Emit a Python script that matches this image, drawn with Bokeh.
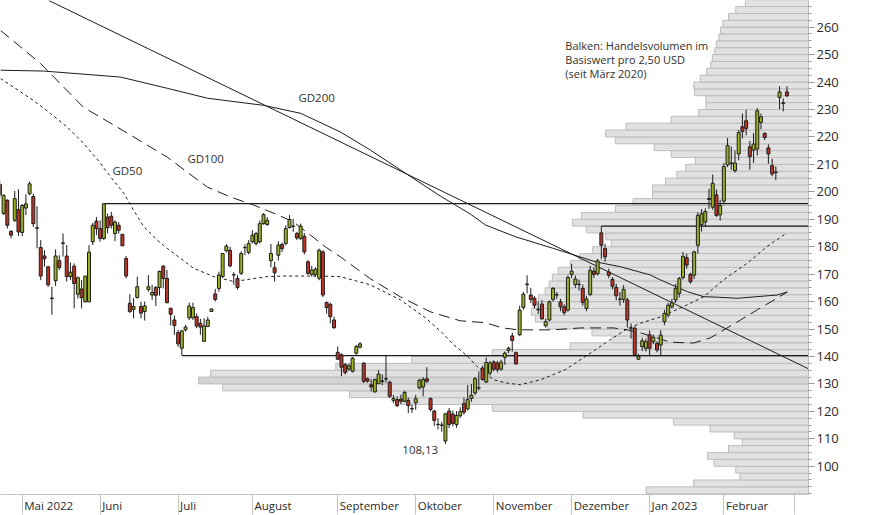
import numpy as np
import pandas as pd
from bokeh.plotting import figure
from bokeh.models import Range1d, FixedTicker, Label, ColumnDataSource
from bokeh.embed import file_html
from bokeh.resources import INLINE

# ---------------- data ----------------
HOLIDAYS = ["2022-05-30", "2022-06-20", "2022-07-04", "2022-09-05", "2022-11-24",
            "2022-12-26", "2023-01-02", "2023-01-16", "2023-02-20"]
DATES = pd.bdate_range("2022-04-22", "2023-02-27", freq="C", holidays=HOLIDAYS)
TICK_DATES = pd.bdate_range("2022-04-22", "2023-03-01", freq="C", holidays=HOLIDAYS)

OPEN = [202.7, 192.1, 196.9, 185.6, 189.6, 193.5, 185.2, 194.1, 199.3, 198.3,
        186.9, 179.7, 176.6, 172.7, 161.3, 167.6, 174.9, 181.2, 176.6, 169.1,
        172.9, 162.7, 164.6, 159.9, 159.9, 181.8, 189.3, 186.6, 183.0, 190.8,
        191.1, 184.8, 187.8, 184.5, 175.7, 159.4, 157.2, 161.5, 158.2, 156.4,
        164.4, 162.4, 165.1, 165.1, 172.9, 168.4, 157.6, 153.3, 148.7, 143.0,
        149.7, 154.1, 154.1, 154.5, 152.1, 145.5, 150.9, 156.4, 162.8, 164.8,
        169.1, 178.5, 178.7, 169.7, 168.4, 170.3, 179.6, 177.9, 181.8, 181.2,
        181.8, 188.4, 188.1, 174.9, 172.3, 176.9, 180.8, 181.2, 187.0, 187.5,
        184.8, 183.0, 183.8, 174.5, 169.9, 169.9, 168.5, 178.1, 159.7, 159.0,
        153.3, 141.5, 140.6, 137.0, 135.4, 134.6, 141.2, 143.4, 137.6, 131.9,
        129.7, 127.1, 130.1, 130.9, 131.9, 130.6, 124.0, 124.3, 124.5, 123.7,
        124.0, 120.9, 123.1, 128.5, 128.9, 131.9, 124.6, 120.1, 115.2, 115.0,
        109.2, 120.1, 119.0, 115.2, 118.4, 122.8, 120.9, 124.7, 126.7, 128.5,
        135.8, 130.7, 133.9, 138.0, 137.6, 135.4, 139.7, 142.2, 147.5, 141.4,
        147.9, 157.9, 166.4, 162.4, 161.2, 157.0, 159.1, 151.2, 153.3, 160.8,
        162.4, 159.9, 158.1, 156.9, 169.9, 166.2, 166.2, 164.8, 157.5, 162.6,
        171.1, 170.2, 185.0, 179.3, 170.8, 168.1, 165.2, 160.8, 160.8, 160.6,
        150.3, 150.3, 139.0, 143.6, 143.0, 147.9, 145.4, 144.8, 144.2, 152.7,
        155.1, 158.1, 160.6, 163.0, 168.8, 176.0, 169.9, 169.6, 180.5, 188.0,
        189.0, 197.2, 194.4, 198.9, 191.6, 196.6, 209.8, 210.3, 207.7, 213.8,
        223.7, 225.9, 216.4, 215.2, 215.6, 225.3, 221.3, 216.0, 209.5, 207.0,
        234.4, 232.2, 236.4]
HIGH = [204.0, 199.1, 197.3, 186.0, 200.3, 200.9, 195.6, 199.1, 203.8, 199.3,
        194.7, 182.4, 178.7, 172.7, 165.4, 179.0, 176.9, 184.8, 180.6, 174.2,
        173.9, 169.1, 167.8, 169.3, 180.6, 188.7, 190.8, 189.6, 195.6, 192.1,
        192.7, 189.6, 189.0, 184.5, 176.6, 162.7, 161.3, 169.1, 160.0, 160.0,
        169.6, 166.1, 165.7, 171.3, 173.3, 171.5, 157.6, 154.9, 149.7, 149.7,
        151.5, 159.6, 159.6, 155.7, 153.7, 153.9, 154.5, 157.5, 164.6, 170.9,
        177.5, 181.0, 180.0, 170.7, 169.6, 178.3, 180.8, 182.4, 186.0, 185.4,
        189.6, 192.2, 190.8, 181.0, 174.5, 182.0, 181.5, 187.8, 191.5, 190.2,
        185.4, 188.4, 185.0, 175.1, 173.0, 172.5, 179.3, 178.7, 160.0, 159.6,
        154.5, 143.6, 141.2, 137.6, 137.4, 139.8, 144.2, 145.2, 137.8, 132.3,
        131.6, 131.9, 135.0, 133.5, 140.3, 131.2, 126.0, 125.5, 126.1, 127.5,
        125.0, 122.5, 126.0, 131.9, 132.5, 136.1, 125.2, 120.6, 117.5, 116.2,
        119.5, 121.2, 120.3, 120.1, 121.5, 125.0, 129.6, 130.0, 132.5, 134.5,
        136.6, 139.6, 138.4, 138.6, 138.4, 138.8, 141.8, 143.6, 148.7, 141.8,
        158.5, 163.5, 169.6, 165.0, 162.0, 160.0, 160.5, 153.8, 160.4, 165.3,
        163.5, 161.0, 159.0, 169.5, 173.8, 169.5, 168.0, 166.2, 162.0, 173.0,
        172.5, 175.5, 187.5, 181.0, 172.0, 169.0, 166.5, 163.5, 166.0, 161.5,
        152.0, 151.0, 141.0, 146.8, 146.5, 149.5, 148.0, 145.5, 149.6, 157.0,
        159.5, 161.0, 166.5, 169.0, 178.0, 177.5, 170.5, 178.5, 192.6, 193.7,
        194.0, 201.1, 206.3, 200.9, 197.0, 210.5, 219.6, 216.5, 215.0, 222.5,
        228.5, 229.8, 218.5, 221.4, 230.5, 228.5, 221.6, 217.3, 212.0, 209.2,
        238.4, 234.0, 238.4]
LOW = [197.5, 191.5, 186.6, 183.0, 189.0, 183.9, 183.8, 191.5, 198.7, 187.2,
       179.4, 167.8, 172.7, 165.4, 155.2, 165.7, 171.5, 176.4, 167.3, 167.8,
       157.5, 161.1, 157.5, 159.7, 159.9, 180.6, 184.2, 181.8, 182.4, 184.8,
       186.6, 182.0, 184.8, 180.3, 168.5, 155.8, 153.9, 161.1, 153.9, 153.1,
       163.6, 160.6, 158.4, 162.2, 164.8, 159.4, 151.3, 147.9, 143.5, 140.5,
       149.1, 153.3, 153.3, 150.3, 147.9, 145.5, 150.9, 156.2, 160.0, 163.6,
       168.5, 177.9, 172.5, 166.1, 164.4, 169.7, 176.9, 177.2, 181.2, 180.4,
       181.2, 188.0, 187.6, 172.5, 167.3, 175.0, 178.0, 180.5, 186.6, 185.4,
       182.4, 182.4, 177.2, 169.7, 169.1, 169.1, 167.8, 161.6, 155.6, 152.1,
       150.0, 138.8, 132.8, 133.4, 134.8, 134.2, 140.6, 142.9, 130.3, 130.5,
       127.3, 126.9, 129.9, 129.5, 130.5, 124.9, 123.0, 121.5, 122.5, 123.3,
       119.4, 119.5, 120.6, 128.0, 125.5, 130.3, 120.0, 114.7, 113.4, 112.6,
       108.13, 113.9, 114.5, 114.0, 117.6, 118.8, 120.3, 123.5, 125.9, 127.7,
       131.2, 130.3, 133.0, 134.6, 134.2, 134.8, 137.0, 141.2, 141.8, 137.0,
       147.5, 157.0, 163.0, 159.5, 157.5, 155.5, 153.5, 150.5, 152.8, 160.0,
       161.0, 156.5, 155.0, 156.3, 168.5, 165.0, 164.0, 158.5, 156.5, 162.0,
       168.5, 169.5, 175.5, 174.5, 168.5, 164.5, 160.5, 158.5, 159.5, 150.5,
       146.5, 140.0, 138.8, 142.0, 141.8, 140.5, 144.5, 141.5, 140.4, 151.4,
       154.2, 157.5, 159.5, 161.5, 168.0, 172.0, 166.5, 168.2, 177.5, 185.5,
       187.2, 193.8, 193.5, 190.8, 189.5, 195.5, 209.0, 208.0, 207.0, 211.5,
       219.5, 220.6, 208.0, 210.5, 213.2, 222.8, 218.8, 210.2, 205.7, 204.2,
       230.0, 229.3, 234.5]
CLOSE = [198.8, 198.7, 187.8, 184.2, 197.5, 185.4, 195.0, 195.6, 202.9, 188.4,
         186.7, 169.3, 175.6, 166.1, 161.1, 176.6, 172.4, 181.4, 169.1, 170.7,
         166.6, 168.7, 161.4, 169.3, 178.0, 187.8, 186.6, 183.0, 195.6, 186.9,
         187.8, 189.0, 186.0, 180.3, 169.3, 156.4, 158.2, 165.4, 155.8, 158.4,
         165.4, 163.3, 162.3, 171.0, 168.4, 159.6, 155.4, 151.3, 144.6, 149.3,
         150.7, 158.4, 157.8, 151.1, 150.7, 151.1, 153.3, 157.3, 160.8, 169.7,
         177.5, 180.2, 173.0, 169.8, 165.1, 177.5, 179.7, 181.2, 184.2, 184.8,
         188.4, 191.7, 189.6, 177.5, 170.5, 180.6, 179.3, 186.6, 189.9, 187.4,
         183.2, 187.5, 178.1, 170.3, 171.5, 171.8, 178.7, 162.4, 157.8, 154.5,
         150.5, 139.0, 136.1, 134.2, 136.6, 139.4, 143.6, 144.6, 131.0, 131.0,
         128.9, 131.6, 133.6, 131.1, 131.8, 125.5, 124.7, 122.1, 123.7, 126.9,
         122.1, 121.0, 124.6, 131.3, 131.6, 131.0, 120.7, 116.7, 115.3, 114.9,
         119.1, 115.2, 115.6, 118.5, 119.9, 119.7, 124.3, 125.9, 131.9, 128.6,
         131.6, 137.8, 137.6, 135.4, 135.2, 137.9, 141.2, 143.0, 145.8, 137.3,
         156.9, 162.7, 166.2, 160.8, 158.7, 157.2, 153.7, 152.7, 159.9, 164.8,
         162.5, 158.1, 156.0, 168.8, 171.1, 168.2, 166.3, 159.7, 160.9, 171.4,
         169.9, 174.8, 180.5, 176.3, 169.6, 165.6, 162.1, 160.9, 164.4, 153.3,
         150.4, 140.6, 140.0, 145.7, 145.4, 143.0, 147.0, 142.4, 147.8, 155.7,
         158.7, 159.6, 164.8, 168.4, 176.5, 173.3, 167.2, 178.1, 191.4, 192.0,
         192.8, 197.6, 203.1, 191.4, 195.0, 209.2, 216.8, 210.5, 210.5, 221.6,
         222.0, 223.1, 212.8, 217.4, 229.5, 227.3, 219.8, 213.8, 206.5, 207.2,
         236.4, 232.4, 235.0]

# moving averages (x = trading-day index)
GD200_X = [0.16, 11.7, 32.5, 45.1, 55.9, 71.0, 81.0, 91.7, 99.8, 109.2, 118.7, 126.7, 130.8,
           138.9, 148.8, 160.4, 167.1, 175.2, 177.9, 185.2, 189.5, 193.3, 198.6, 209.4, 212.1]
GD200_Y = [244.3, 244.0, 241.8, 237.7, 234.1, 231.5, 228.6, 221.8, 215.2, 206.8, 198.4, 191.9, 187.9,
           183.6, 179.5, 174.5, 172.7, 169.7, 167.9, 163.6, 161.8, 161.6, 161.2, 162.4, 163.5]
GD100_X = [0.16, 10.9, 22.5, 31.7, 45.1, 50.8, 55.9, 62.1, 68.3, 75.0, 79.1, 83.6, 87.7, 91.7,
           99.8, 107.9, 115.9, 124.0, 130.8, 135.4, 139.7, 148.8, 156.4, 165.3, 169.0, 172.5,
           176.0, 180.6, 186.8, 191.4, 199.5, 204.0, 209.4, 212.1]
GD100_Y = [258.8, 246.8, 230.8, 223.5, 212.6, 206.8, 201.7, 198.1, 195.2, 191.5, 189.0, 184.3, 179.9, 176.3,
           168.3, 161.7, 156.3, 153.0, 152.3, 150.4, 149.7, 149.7, 150.4, 150.4, 149.7, 148.6,
           147.2, 145.2, 144.9, 146.8, 153.3, 157.0, 161.3, 163.5]
GD50_X = [0.16, 9.0, 13.6, 18.2, 22.5, 27.1, 28.4, 29.8, 33.4, 36.0, 38.75, 42.4, 45.05, 48.6, 52.2,
          57.6, 63.0, 72.0, 76.5, 85.45, 91.7, 99.8, 107.9, 114.6, 119.1, 122.2, 125.8, 128.5,
          133.0, 136.6, 140.2, 145.6, 152.3, 157.7, 163.1, 168.5, 172.5, 177.9, 184.2, 189.6,
          194.9, 201.3, 206.6, 211.8]
GD50_Y = [241.3, 233.3, 228.6, 223.5, 217.7, 210.4, 207.9, 205.5, 199.4, 193.3, 187.3, 182.4, 179.4, 175.8, 172.1,
          169.1, 167.3, 169.1, 169.3, 169.3, 169.1, 166.1, 160.6, 154.1, 148.7, 144.3, 140.3, 136.4,
          131.5, 130.3, 129.7, 131.5, 135.2, 140.0, 144.9, 149.7, 152.1, 154.4, 158.2, 161.8,
          167.9, 174.0, 180.0, 184.9]

# trend line and horizontal support/resistance lines
TREND_X = [13.16, 217.8]
TREND_Y = [269.7, 135.5]
LEVELS = [195.7, 187.5, 140.3]
LEVEL_START = [28, 162, 49]

# volume profile: bins of 2.50 USD, relative volume (0..100)
VOL_PRICE = [90 + 2.5 * k for k in range(72)]
VOL = [20.1, 14.2, 8.5, 9.0, 11.7, 12.5, 9.9, 8.2, 9.2, 12.2,
       16.7, 27.9, 39.1, 50.3, 56.8, 72.5, 75.5, 74.0, 58.5, 49.1,
       39.1, 29.5, 24.3, 26.8, 32.3, 33.8, 34.3, 34.1, 33.4, 32.6,
       32.1, 31.7, 31.0, 29.5, 28.3, 26.7, 24.4, 25.1, 27.5, 29.2,
       28.1, 23.9, 21.7, 19.3, 19.3, 17.7, 16.3, 15.2, 14.0, 17.0,
       19.1, 23.9, 25.1, 22.6, 17.0, 13.6, 12.7, 12.7, 14.1, 14.2,
       13.4, 12.6, 12.1, 11.9, 11.6, 11.4, 11.1, 10.9, 10.6, 9.9,
       9.0, 7.8]

MONTH_LABELS = ["Mai 2022", "Juni", "Juli", "August", "September", "Oktober",
                "November", "Dezember", "Jan 2023", "Februar"]
Y_TICKS = list(range(100, 261, 10))

# ---------------- figure ----------------
FRAME_W, FRAME_H = 808, 495
X_START, X_END = 0.16, 217.8
Y_START, Y_END = 89.71, 269.7
FONT = "Open Sans"
XLAB_SIZE = 11.5
GREEN = "#9db31f"
RED = "#bf3526"
INK = "#1c1c1c"

p = figure(width=874, height=515, output_backend="svg", toolbar_location=None,
           x_range=Range1d(X_START, X_END), y_range=Range1d(Y_START, Y_END),
           y_axis_location="right", min_border_left=0, min_border_top=0,
           min_border_right=874 - FRAME_W, min_border_bottom=515 - FRAME_H)
p.outline_line_color = None
p.grid.visible = False
p.background_fill_color = "white"
p.border_fill_color = "white"

# volume profile bars
p.extra_x_ranges = {"vol": Range1d(start=100, end=0)}
vmax = max(VOL)
bar_colors = ["#d3d3d3" if v == vmax else "#e1e1e1" for v in VOL]
p.hbar(y=[v + 1.25 for v in VOL_PRICE], height=2.5, left=VOL, right=0,
       x_range_name="vol", fill_color=bar_colors, line_color="#bdbdbd", line_width=1)

# moving averages
p.line(GD200_X, GD200_Y, line_color=INK, line_width=1)
p.line(GD100_X, GD100_Y, line_color=INK, line_width=1, line_dash="11 6")
p.line(GD50_X, GD50_Y, line_color=INK, line_width=1, line_dash="3 3")

# trend + horizontal lines
p.line(TREND_X, TREND_Y, line_color=INK, line_width=1)
p.segment(x0=LEVEL_START, y0=LEVELS, x1=[X_END] * len(LEVELS), y1=LEVELS,
          line_color=INK, line_width=1.4)

# candles
n = min(len(DATES), len(OPEN), len(HIGH), len(LOW), len(CLOSE))
xs = np.arange(n)
o = np.array(OPEN[:n]); h = np.array(HIGH[:n]); l = np.array(LOW[:n]); c = np.array(CLOSE[:n])
src = ColumnDataSource(dict(
    x=xs, high=h, low=l,
    top=np.maximum(o, c), bottom=np.minimum(o, c),
    color=[GREEN if cc >= oo else RED for oo, cc in zip(o, c)]))
p.segment(x0="x", y0="high", x1="x", y1="low", source=src, line_color=INK, line_width=1)
p.vbar(x="x", top="top", bottom="bottom", width=0.8, source=src,
       fill_color="color", line_color=INK, line_width=1)

# ---------------- axes ----------------
# approximate Open Sans advance widths (em) to put each centred month label
# just to the right of its month separator
EM = {" ": 0.26, "M": 0.905, "a": 0.556, "i": 0.253, "J": 0.266, "u": 0.614, "n": 0.614,
      "l": 0.253, "A": 0.633, "g": 0.548, "s": 0.477, "t": 0.353, "S": 0.547, "e": 0.561,
      "p": 0.613, "m": 0.930, "b": 0.613, "r": 0.408, "O": 0.781, "k": 0.525, "o": 0.604,
      "N": 0.770, "v": 0.502, "D": 0.722, "z": 0.477, "F": 0.539}
def text_w(s):
    return sum(EM.get(ch, 0.572) for ch in s) * XLAB_SIZE

px_per_x = FRAME_W / (X_END - X_START)
month_first = []
seen = set()
for k, d in enumerate(TICK_DATES):
    key = (d.year, d.month)
    if key not in seen:
        seen.add(key)
        if k > 0:
            month_first.append(k)
label_pos = [float(m) + (2.0 + text_w(s) / 2.0) / px_per_x
             for m, s in zip(month_first, MONTH_LABELS)]
xax = p.xaxis[0]
xax.ticker = FixedTicker(ticks=label_pos, minor_ticks=[float(m) for m in month_first])
xax.major_label_overrides = {t: s for t, s in zip(label_pos, MONTH_LABELS)}
xax.major_tick_out = 0
xax.major_tick_in = 0
xax.minor_tick_out = 20
xax.minor_tick_in = 0
xax.minor_tick_line_color = "#c4c4c4"
xax.axis_line_color = "#c4c4c4"
xax.major_label_standoff = -17
xax.major_label_text_font = FONT
xax.major_label_text_font_size = f"{XLAB_SIZE}px"
xax.major_label_text_color = "#2a2a2a"

yax = p.yaxis[0]
yax.ticker = FixedTicker(ticks=Y_TICKS, minor_ticks=[v for v in VOL_PRICE] + [270.0])
yax.major_tick_out = 6
yax.major_tick_in = 0
yax.minor_tick_out = 3
yax.minor_tick_in = 0
yax.major_tick_line_color = "#9a9a9a"
yax.minor_tick_line_color = "#9a9a9a"
yax.axis_line_color = "#bdbdbd"
yax.major_label_standoff = 2
yax.major_label_text_font = FONT
yax.major_label_text_font_size = "13px"
yax.major_label_text_color = "#2a2a2a"

# ---------------- texts ----------------
def add_text(x, y, text, size="11.5px"):
    p.add_layout(Label(x=x, y=y, text=text, text_font=FONT, text_font_size=size,
                       text_color="#303030", text_baseline="middle", text_align="left"))

add_text(80.4, 234.4, "GD200")
add_text(50.5, 212.3, "GD100")
add_text(30.3, 207.9, "GD50")
add_text(108.4, 106.1, "108,13")
add_text(152.3, 253.3, "Balken: Handelsvolumen im", "11px")
add_text(152.3, 248.2, "Basiswert pro 2,50 USD", "11px")
add_text(152.3, 243.1, "(seit März 2020)", "11px")

open("out.html", "w").write(file_html(p, INLINE))
